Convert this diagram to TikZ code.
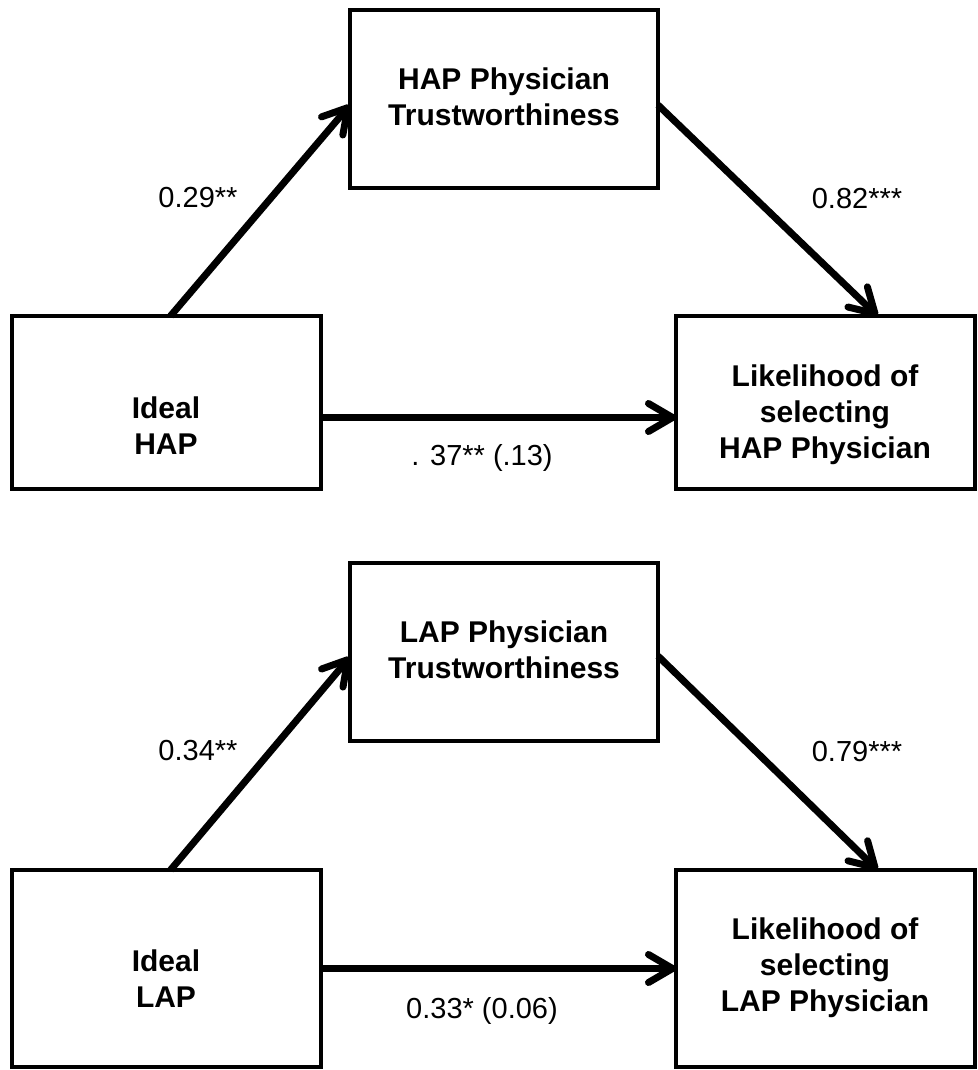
\documentclass[tikz,border=0pt]{standalone}
\usepackage{fontspec}
\setmainfont{Liberation Sans}
\usetikzlibrary{arrows.meta}
\begin{document}
\begin{tikzpicture}[x=1pt,y=-1pt,
box/.style={draw,line width=4pt,inner sep=0pt,outer sep=0pt,anchor=north west},
boxtext/.style={font=\fontsize{30pt}{36pt}\selectfont\bfseries,align=center},
coef/.style={font=\fontsize{29pt}{35pt}\selectfont},
effect/.style={line width=7pt,-{Straight Barb[length=24pt,width=28pt,round]}}]
\useasboundingbox (0,0) rectangle (977,1070);
\node[box,minimum width=308pt,minimum height=178pt] (trusthap) at (350,10) {};
\node[box,minimum width=309pt,minimum height=173pt] (idealhap) at (12,316) {};
\node[box,minimum width=299pt,minimum height=173pt] (likehap) at (676,316) {};
\node[boxtext] (trusthaptxt) at (504,97) {HAP Physician\\Trustworthiness};
\node[boxtext] (idealhaptxt) at (166,426) {Ideal\\HAP};
\node[boxtext] (likehaptxt) at (825,415) {Likelihood of\\selecting\\HAP Physician};
\node[coef] (ahap) at (198,198) {0.29**};
\node[coef] (bhap) at (857,199) {0.82***};
\node[coef] (chap) at (482,458) {. 37** (.13)};
\draw[effect] ([xshift=4pt]idealhap.north) -- ([yshift=-6pt]trusthap.west);
\draw[effect] ([yshift=-6pt]trusthap.east) -- ([xshift=52pt]likehap.north);
\draw[effect] ([yshift=-15pt]idealhap.east) -- ([yshift=-15pt]likehap.west);
\node[box,minimum width=308pt,minimum height=178pt] (trustlap) at (350,563) {};
\node[box,minimum width=309pt,minimum height=197pt] (ideallap) at (12,870) {};
\node[box,minimum width=299pt,minimum height=197pt] (likelap) at (676,870) {};
\node[boxtext] (trustlaptxt) at (504,650) {LAP Physician\\Trustworthiness};
\node[boxtext] (ideallaptxt) at (166,979) {Ideal\\LAP};
\node[boxtext] (likelaptxt) at (825,968) {Likelihood of\\selecting\\LAP Physician};
\node[coef] (alap) at (198,751) {0.34**};
\node[coef] (blap) at (857,752) {0.79***};
\node[coef] (clap) at (482,1011) {0.33* (0.06)};
\draw[effect] ([xshift=4pt]ideallap.north) -- ([yshift=-5pt]trustlap.west);
\draw[effect] ([yshift=-4pt]trustlap.east) -- ([xshift=52pt]likelap.north);
\draw[effect] (ideallap.east) -- (likelap.west);
\end{tikzpicture}
\end{document}
